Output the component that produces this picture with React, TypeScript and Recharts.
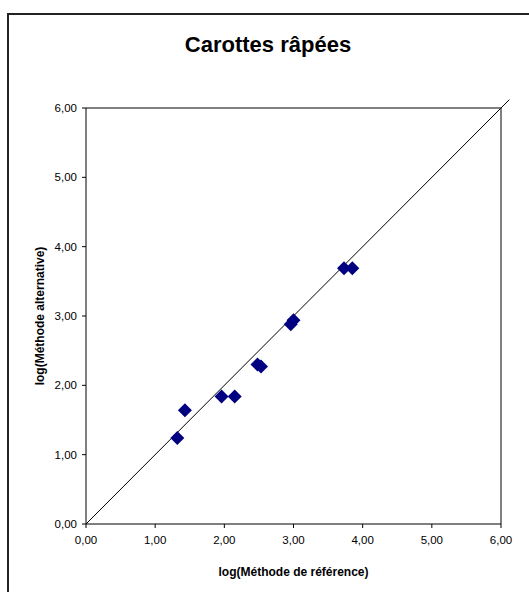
import {
  ScatterChart,
  Scatter,
  XAxis,
  YAxis,
  ReferenceLine,
} from "recharts";

const title = "Carottes râpées";
const xTitle = "log(Méthode de référence)";
const yTitle = "log(Méthode alternative)";

const axisTicks = [0, 1, 2, 3, 4, 5, 6];
const refValues = [1.32, 1.43, 1.96, 2.15, 2.48, 2.53, 2.96, 3.0, 3.73, 3.85];
const altValues = [1.24, 1.64, 1.84, 1.84, 2.3, 2.27, 2.88, 2.94, 3.69, 3.69];

const points = refValues.map((x, i) => ({ x, y: altValues[i] }));

const font = "'Liberation Sans', Arial, sans-serif";
const fmt = (v: number) => v.toFixed(2).replace(".", ",");

function Diamond(props: any) {
  const { cx, cy } = props;
  const r = 7;
  return (
    <polygon
      points={`${cx},${cy - r} ${cx + r},${cy} ${cx},${cy + r} ${cx - r},${cy}`}
      fill="#000080"
    />
  );
}

export default function App() {
  return (
    <div style={{ position: "absolute", left: 0, top: 0, width: 529, height: 592, background: "#fff", overflow: "hidden" }}>
      <div
        style={{
          position: "absolute",
          left: 7,
          top: 13,
          width: 600,
          height: 700,
          borderTop: "2px solid #222",
          borderLeft: "2px solid #222",
        }}
      />
      <div
        style={{
          position: "absolute",
          left: 0,
          width: 536,
          top: 32,
          textAlign: "center",
          fontFamily: font,
          fontWeight: "bold",
          fontSize: 22,
        }}
      >
        {title}
      </div>
      <div style={{ position: "absolute", left: 0, top: 0 }}>
        <ScatterChart width={529} height={592} margin={{ top: 108, right: 28, bottom: 0, left: 0 }}>
          <XAxis
            type="number"
            dataKey="x"
            domain={[0, 6]}
            ticks={axisTicks}
            tickFormatter={fmt}
            height={68}
            tickSize={4}
            tickMargin={8}
            stroke="#000"
            tick={{ fill: "#000", fontSize: 11.5, fontFamily: font }}
            label={{
              value: xTitle,
              position: "insideBottom",
              offset: 16,
              style: { fontSize: 12, fontWeight: "bold", fontFamily: font, fill: "#000" },
            }}
          />
          <YAxis
            type="number"
            dataKey="y"
            domain={[0, 6]}
            ticks={axisTicks}
            tickFormatter={fmt}
            width={86}
            tickSize={4}
            tickMargin={5}
            stroke="#000"
            tick={{ fill: "#000", fontSize: 11.5, fontFamily: font }}
            label={{
              value: yTitle,
              angle: -90,
              position: "insideLeft",
              offset: 40,
              style: { textAnchor: "middle", fontSize: 12, fontWeight: "bold", fontFamily: font, fill: "#000" },
            }}
          />
          <ReferenceLine y={6} stroke="#808080" strokeWidth={2} />
          <ReferenceLine x={6} stroke="#808080" strokeWidth={2} />
          <ReferenceLine
            segment={[
              { x: 0, y: 0 },
              { x: 6.12, y: 6.12 },
            ]}
            ifOverflow="visible"
            stroke="#000"
            strokeWidth={1}
          />
          <Scatter data={points} shape={<Diamond />} isAnimationActive={false} />
        </ScatterChart>
      </div>
    </div>
  );
}
